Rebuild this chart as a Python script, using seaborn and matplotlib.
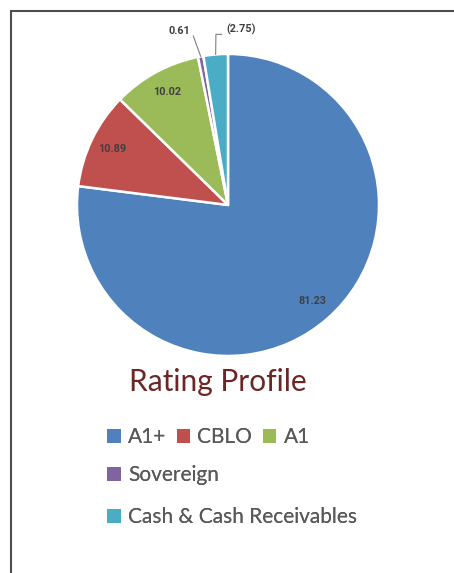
import matplotlib
matplotlib.use("Agg")
import matplotlib.pyplot as plt
import seaborn as sns
import numpy as np
from matplotlib.patches import Patch
from matplotlib.lines import Line2D

# rating profile values (cash shown in brackets in the source, slice uses abs value)
categories = ["A1+", "CBLO", "A1", "Sovereign", "Cash & Cash Receivables"]
values = [81.23, 10.89, 10.02, 0.61, 2.75]
value_labels = ["81.23", "10.89", "10.02", "0.61", "(2.75)"]
colors = ["#4F81BD", "#C0504D", "#9BBB59", "#8064A2", "#4BACC6"]

sns.set_theme(style="white")
plt.rcParams['font.family'] = ['Lato', 'DejaVu Sans']

fig = plt.figure(figsize=(4.54, 5.73), dpi=100)
fig.patch.set_facecolor("white")

# pie axes placed so the centre sits at about (228, 205) px with radius ~151 px
ax = fig.add_axes([0.0698, 0.2997, 0.8648, 0.6852])
wedges, _ = ax.pie(values, colors=colors, startangle=90, counterclock=False,
                   radius=1.0, wedgeprops=dict(edgecolor="white", linewidth=1.8))
ax.set_xlim(-1.3, 1.3)
ax.set_ylim(-1.3, 1.3)
ax.axis("off")

lab_font = dict(fontsize=7.8, color="#404040", family=["Roboto", "DejaVu Sans"],
                fontweight="bold", fontstretch="condensed")

# inside labels for the three big slices
for w, lab in zip(wedges[:3], value_labels[:3]):
    ang = np.deg2rad((w.theta1 + w.theta2) / 2)
    r = 0.85
    ax.text(r * np.cos(ang), r * np.sin(ang), lab, ha="center", va="center", **lab_font)

# outside labels with leader lines for the thin slices
for w, lab, txt_xy, knee in [(wedges[3], value_labels[3], (-0.32, 1.155), (-0.23, 1.12)),
                             (wedges[4], value_labels[4], (0.09, 1.16), (-0.04, 1.13))]:
    ang = np.deg2rad((w.theta1 + w.theta2) / 2)
    ex, ey = np.cos(ang), np.sin(ang)
    if lab.startswith("("):
        ax.plot([ex, -0.08, knee[0]], [ey, knee[1], knee[1]], color="#7f7f7f", lw=0.8)
    else:
        ax.plot([ex, knee[0]], [ey, knee[1]], color="#7f7f7f", lw=0.8)
    ax.text(txt_xy[0], txt_xy[1], lab, ha="center", va="center", **lab_font)

# title under the pie
fig.text(218 / 454, 1 - 382 / 573, "Rating Profile", ha="center", va="center",
         fontsize=21.5, color="#6B2626")

# legend laid out in three rows like the original
handles = [Patch(facecolor=c, edgecolor="none") for c in colors]
leg_kw = dict(frameon=False, fontsize=15, labelcolor="#595959", handlelength=0.65,
              handleheight=0.65, handletextpad=0.35, columnspacing=0.5, borderpad=0,
              borderaxespad=0, loc="center left")
rows = [(slice(0, 3), 437), (slice(3, 4), 475), (slice(4, 5), 517)]
for sl, ypx in rows:
    h = handles[sl]
    leg = fig.legend(h, categories[sl], ncol=len(h),
                     bbox_to_anchor=(107 / 454, 1 - ypx / 573), **leg_kw)
    fig.add_artist(leg)

# frame lines on top and left
fig.add_artist(Line2D([11 / 454, 1], [1 - 11 / 573, 1 - 11 / 573],
                      transform=fig.transFigure, color="#4d4d4d", lw=1.5))
fig.add_artist(Line2D([11 / 454, 11 / 454], [0, 1 - 11 / 573],
                      transform=fig.transFigure, color="#4d4d4d", lw=1.5))

plt.savefig("out.png", dpi=100)
